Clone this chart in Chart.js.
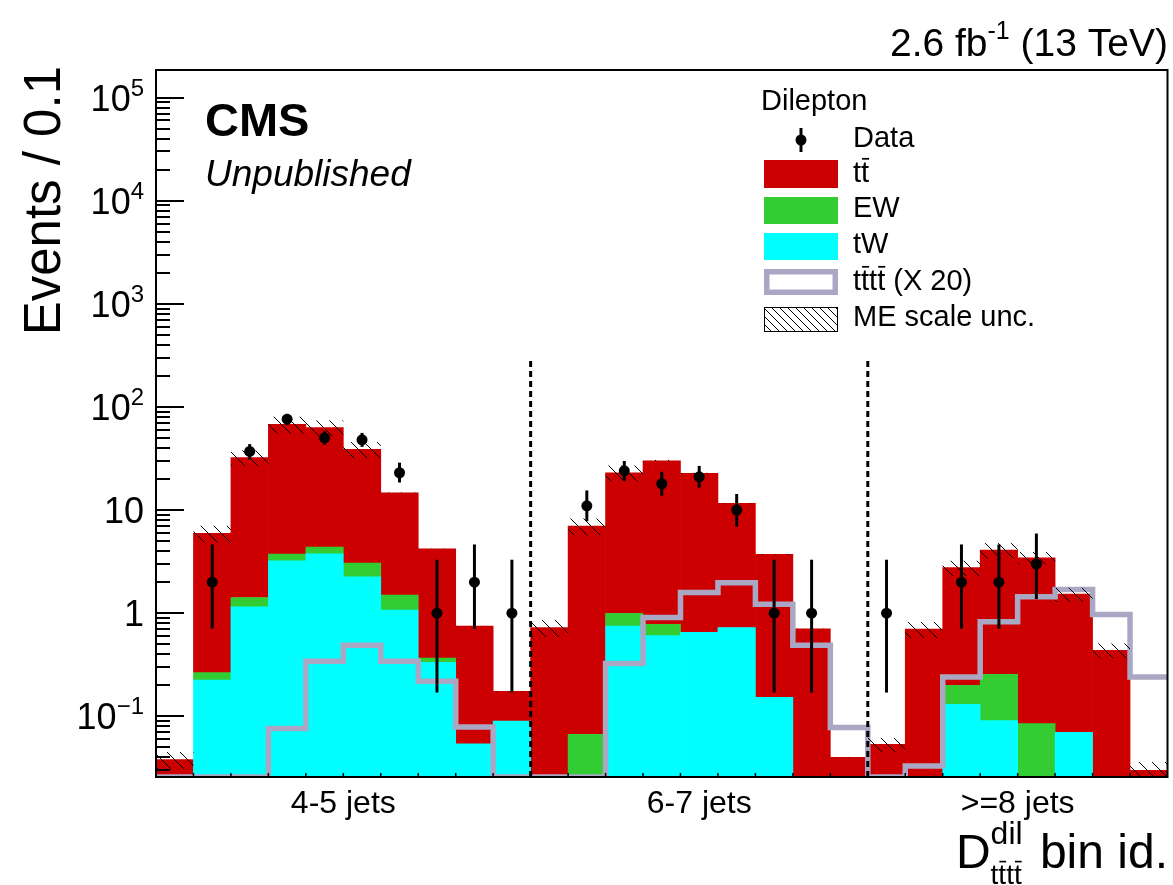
<!DOCTYPE html>
<html>
<head>
<meta charset="utf-8">
<script src="https://cdn.jsdelivr.net/npm/chart.js@4.4.1/dist/chart.umd.min.js"></script>
<style>
  html, body { margin: 0; padding: 0; background: #fff; }
</style>
</head>
<body>
<canvas id="c" width="1173" height="885"></canvas>
<script>
'use strict';

// DATA: 27 bins of the dilepton BDT, split in three jet-multiplicity regions
const regions = ['4-5 jets', '6-7 jets', '>=8 jets'];
const regionBins = [10, 9, 8];

const ttbar = [0.038, 5.68, 30.8, 64.2, 58.6, 35.7, 13.2, 3.84, 0.694, 0.085,
  0.726, 6.93, 22.0, 29.3, 22.0, 10.9, 3.56, 0.705, 0.040,
  0.0535, 0.70, 2.57, 3.83, 3.36, 1.46, 0.437, 0.030];
const ew = [0, 0.04, 0.27, 0.52, 0.60, 0.81, 0.43, 0.034, 0, 0,
  0, 0.067, 0.25, 0.175, 0, 0, 0, 0, 0,
  0, 0, 0.069, 0.165, 0.085, 0, 0, 0];
const tw = [0, 0.225, 1.15, 3.22, 3.77, 2.25, 1.07, 0.334, 0.054, 0.090,
  0, 0, 0.748, 0.607, 0.654, 0.726, 0.153, 0, 0,
  0, 0, 0.131, 0.091, 0, 0.070, 0, 0];
const tttt20 = [0, 0, 0, 0.076, 0.342, 0.489, 0.342, 0.219, 0.079, 0,
  0, 0, 0.325, 0.91, 1.59, 1.97, 1.22, 0.489, 0.078,
  0, 0.033, 0.241, 0.824, 1.44, 1.70, 0.97, 0.241];
// relative ME scale uncertainty on the total
const meUnc = [0.19, 0.19, 0.18, 0.19, 0.18, 0.18, 0.01, 0.01, 0.01, 0.01,
  0.19, 0.19, 0.18, 0.02, 0.02, 0.01, 0.01, 0.01, 0.01,
  0.16, 0.18, 0.17, 0.17, 0.14, 0.16, 0.17, 0.20];

const dataCounts = [null, 2, 37, 76, 50, 48, 23, 1, 2, 1,
  null, 11, 24, 18, 21, 10, 1, 1, null,
  1, null, 2, 2, 3, null, null, null];
const dataLow = [null, 0.71, 31, 67.3, 43, 41, 18.5, 0.17, 0.71, 0.17,
  null, 7.8, 19.2, 13.8, 16.5, 6.9, 0.17, 0.17, null,
  0.17, null, 0.71, 0.71, 1.37, null, null, null];
const dataHigh = [null, 4.64, 43.6, 85.7, 58, 56, 28.8, 3.3, 4.64, 3.3,
  null, 15.5, 29.9, 23.5, 26.8, 14.3, 3.3, 3.3, null,
  3.3, null, 4.64, 4.64, 5.92, null, null, null];

const yPowers = [-1, 0, 1, 2, 3, 4, 5];
const yMin = 0.0258;
const yMax = 1.85e5;
const sepTop = 285;

const RED = '#cc0000';
const GREEN = '#33cc33';
const CYAN = '#00ffff';
const GREY = '#aaa7c4';
const FONT = '"Liberation Sans", Arial, Helvetica, sans-serif';

const nBins = ttbar.length;
const atCenter = arr => arr.map((v, i) => ({ x: i + 0.5, y: v }));
// empty signal bins sit on the lower edge of the log axis
const stepPoints = tttt20.map((v, i) => ({ x: i, y: v > 0 ? v : yMin }))
  .concat([{ x: nBins, y: tttt20[nBins - 1] > 0 ? tttt20[nBins - 1] : yMin }]);

function font(size, style) {
  return (style ? style + ' ' : '') + size + 'px ' + FONT;
}

// parts: {text, size, style, dy, bars, adv}
function richText(ctx, parts, x, y, align) {
  let total = 0;
  parts.forEach(p => {
    ctx.font = font(p.size, p.style);
    p.w = ctx.measureText(p.text).width;
    total += p.adv !== undefined ? p.adv : p.w;
  });
  let cx = align === 'right' ? x - total : align === 'center' ? x - total / 2 : x;
  ctx.textAlign = 'left';
  ctx.textBaseline = 'alphabetic';
  parts.forEach(p => {
    ctx.font = font(p.size, p.style);
    const by = y + (p.dy || 0);
    ctx.fillText(p.text, cx, by);
    if (p.bars) {
      ctx.lineWidth = Math.max(1.4, p.size * 0.06);
      p.bars.forEach(k => {
        const x0 = cx + ctx.measureText(p.text.slice(0, k)).width;
        const cw = ctx.measureText(p.text[k]).width;
        const ly = by - p.size * 0.80;
        ctx.beginPath();
        ctx.moveTo(x0 + 1, ly);
        ctx.lineTo(x0 + cw, ly);
        ctx.stroke();
      });
    }
    cx += p.adv !== undefined ? p.adv : p.w;
  });
  return total;
}

function hatch(ctx, x0, x1, yTop, yBot, spacing) {
  ctx.save();
  ctx.beginPath();
  ctx.rect(x0, yTop, x1 - x0, yBot - yTop);
  ctx.clip();
  ctx.beginPath();
  const k0 = Math.floor((x0 - yBot) / spacing) - 1;
  const k1 = Math.ceil((x1 - yTop) / spacing) + 1;
  for (let k = k0; k <= k1; k++) {
    const c = k * spacing;
    ctx.moveTo(yTop + c, yTop);
    ctx.lineTo(yBot + c, yBot);
  }
  ctx.strokeStyle = '#000';
  ctx.lineWidth = 1;
  ctx.stroke();
  ctx.restore();
}

const histDecor = {
  id: 'histDecor',
  afterDatasetDraw(chart, args) {
    if (args.index !== 1) return;
    // ME scale band, drawn over the stack and the signal line
    const { ctx, chartArea: a } = chart;
    const xs = chart.scales.x, ys = chart.scales.y;
    ctx.save();
    ctx.beginPath();
    ctx.rect(a.left, a.top, a.right - a.left, a.bottom - a.top);
    ctx.clip();
    for (let i = 0; i < nBins; i++) {
      const tot = ttbar[i] + ew[i] + tw[i];
      const top = ys.getPixelForValue(tot * (1 + meUnc[i]));
      const bot = ys.getPixelForValue(tot * (1 - meUnc[i]));
      hatch(ctx, xs.getPixelForValue(i), xs.getPixelForValue(i + 1), top, bot, 13);
    }
    ctx.restore();
  },
  afterDatasetsDraw(chart) {
    const { ctx, chartArea: a } = chart;
    const xs = chart.scales.x, ys = chart.scales.y;
    ctx.save();
    // data error bars
    ctx.strokeStyle = '#000';
    ctx.lineWidth = 3;
    for (let i = 0; i < nBins; i++) {
      if (dataCounts[i] === null) continue;
      const x = xs.getPixelForValue(i + 0.5);
      ctx.beginPath();
      ctx.moveTo(x, ys.getPixelForValue(dataLow[i]));
      ctx.lineTo(x, ys.getPixelForValue(dataHigh[i]));
      ctx.stroke();
    }
    // region separators
    ctx.setLineDash([6, 4]);
    let edge = 0;
    for (let r = 0; r < regionBins.length - 1; r++) {
      edge += regionBins[r];
      const x = xs.getPixelForValue(edge);
      ctx.beginPath();
      ctx.moveTo(x, a.bottom);
      ctx.lineTo(x, ys.getPixelForValue(sepTop));
      ctx.stroke();
    }
    ctx.restore();
  },
  afterDraw(chart) {
    const { ctx, chartArea: a } = chart;
    const xs = chart.scales.x, ys = chart.scales.y;
    ctx.save();
    ctx.fillStyle = '#000';
    ctx.strokeStyle = '#000';

    // frame
    ctx.lineWidth = 2;
    ctx.strokeRect(a.left, a.top, a.right - a.left, a.bottom - a.top);

    // y ticks
    for (let k = -2; k <= 5; k++) {
      for (let m = 1; m <= 9; m++) {
        const v = m * Math.pow(10, k);
        if (v < yMin || v > yMax) continue;
        const y = Math.round(ys.getPixelForValue(v));
        ctx.beginPath();
        ctx.moveTo(a.left, y);
        ctx.lineTo(a.left + (m === 1 ? 28 : 14), y);
        ctx.stroke();
      }
    }
    // x ticks at bin edges
    ctx.lineWidth = 1.5;
    for (let i = 1; i < nBins; i++) {
      const x = xs.getPixelForValue(i);
      ctx.beginPath();
      ctx.moveTo(x, a.bottom);
      ctx.lineTo(x, a.bottom - 4);
      ctx.stroke();
    }

    // y tick labels
    yPowers.forEach(p => {
      const y = ys.getPixelForValue(Math.pow(10, p));
      let parts;
      if (p === 0) parts = [{ text: '1', size: 36 }];
      else if (p === 1) parts = [{ text: '10', size: 36 }];
      else parts = [{ text: '10', size: 36 }, { text: p < 0 ? '\u2212' + (-p) : String(p), size: 24, dy: -15 }];
      richText(ctx, parts, 144, y + 13, 'right');
    });

    // region labels
    ctx.font = font(32);
    ctx.textAlign = 'center';
    let start = 0;
    regions.forEach((r, k) => {
      const x = xs.getPixelForValue(start + regionBins[k] / 2);
      ctx.fillText(r, x, 813);
      start += regionBins[k];
    });

    // axis titles
    ctx.save();
    ctx.translate(60, 66);
    ctx.rotate(-Math.PI / 2);
    ctx.font = font(51);
    ctx.textAlign = 'right';
    ctx.fillText('Events / 0.1', 0, 0);
    ctx.restore();

    ctx.lineWidth = 1.8;
    richText(ctx, [
      { text: 'D', size: 48 },
      { text: 'dil', size: 32, dy: -24, adv: 0 },
      { text: 'tttt', size: 28, dy: 16, bars: [1, 3], adv: 36 },
      { text: ' bin id.', size: 48 }
    ], 1168, 868, 'right');

    // header texts
    richText(ctx, [
      { text: '2.6 fb', size: 39 },
      { text: '-1', size: 25, dy: -17 },
      { text: ' (13 TeV)', size: 39 }
    ], 1168, 56, 'right');
    ctx.textAlign = 'left';
    ctx.font = font(47, 'bold');
    ctx.fillText('CMS', 205, 136);
    ctx.font = font(37, 'italic');
    ctx.fillText('Unpublished', 205, 186);

    // legend
    const bx0 = 764, bx1 = 838, tx = 853;
    ctx.font = font(29);
    ctx.fillText('Dilepton', 761, 110);
    ctx.beginPath();
    ctx.arc(801, 140, 5.5, 0, Math.PI * 2);
    ctx.fill();
    ctx.lineWidth = 3;
    ctx.beginPath();
    ctx.moveTo(801, 128);
    ctx.lineTo(801, 152);
    ctx.stroke();
    ctx.fillText('Data', tx, 147);

    ctx.fillStyle = RED;
    ctx.fillRect(bx0, 160, bx1 - bx0, 28);
    ctx.fillStyle = GREEN;
    ctx.fillRect(bx0, 197, bx1 - bx0, 27);
    ctx.fillStyle = CYAN;
    ctx.fillRect(bx0, 233, bx1 - bx0, 27);
    ctx.strokeStyle = GREY;
    ctx.lineWidth = 5.5;
    ctx.strokeRect(bx0 + 2.75, 269 + 2.75, bx1 - bx0 - 5.5, 26 - 5.5);
    hatch(ctx, bx0, bx1, 307, 331, 8);
    ctx.strokeStyle = '#000';
    ctx.lineWidth = 1;
    ctx.strokeRect(bx0 + 0.5, 307.5, bx1 - bx0 - 1, 24);

    ctx.fillStyle = '#000';
    ctx.strokeStyle = '#000';
    ctx.lineWidth = 1.8;
    richText(ctx, [{ text: 'tt', size: 29, bars: [1] }], tx, 182, 'left');
    ctx.font = font(29);
    ctx.fillText('EW', tx, 217);
    ctx.fillText('tW', tx, 253);
    richText(ctx, [{ text: 'tttt (X 20)', size: 29, bars: [1, 3] }], tx, 290, 'left');
    ctx.font = font(29);
    ctx.fillText('ME scale unc.', tx, 326);
    ctx.restore();
  }
};

const chart = new Chart(document.getElementById('c'), {
  data: {
    datasets: [
      {
        type: 'line',
        label: 'Data',
        data: atCenter(dataCounts),
        showLine: false,
        pointRadius: 5.5,
        pointBackgroundColor: '#000',
        pointBorderWidth: 0,
        stack: 'obs',
      },
      {
        type: 'line',
        label: 'tttt (X 20)',
        data: stepPoints,
        stepped: 'before',
        borderColor: GREY,
        borderWidth: 5.5,
        pointRadius: 0,
        fill: false,
        stack: 'sig',
      },
      { type: 'bar', label: 'tW', data: atCenter(tw), backgroundColor: CYAN, stack: 'mc' },
      { type: 'bar', label: 'EW', data: atCenter(ew), backgroundColor: GREEN, stack: 'mc' },
      { type: 'bar', label: 'tt', data: atCenter(ttbar), backgroundColor: RED, stack: 'mc' },
    ],
  },
  options: {
    responsive: false,
    animation: false,
    devicePixelRatio: 1,
    layout: { padding: { left: 156, right: 4, top: 70, bottom: 108 } },
    plugins: { legend: { display: false }, tooltip: { enabled: false } },
    datasets: { bar: { barPercentage: 1, categoryPercentage: 1, borderWidth: 0 } },
    scales: {
      x: { type: 'linear', min: 0, max: nBins, display: false, offset: false },
      y: { type: 'logarithmic', min: yMin, max: yMax, stacked: true, display: false },
    },
  },
  plugins: [histDecor],
});
</script>
</body>
</html>
